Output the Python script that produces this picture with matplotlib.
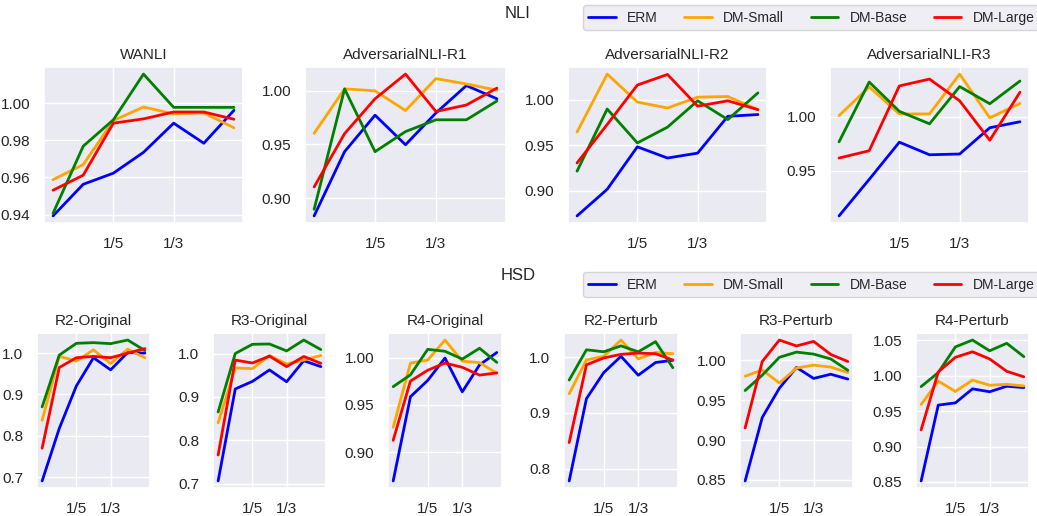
import matplotlib
matplotlib.use("Agg")
import matplotlib.pyplot as plt
import seaborn as sns
from matplotlib.ticker import MultipleLocator

sns.set_theme(style="darkgrid")
plt.rcParams['font.family'] = ['Liberation Sans', 'DejaVu Sans']

# x positions of the 7 runs, only two of them are labelled
steps = [0, 1, 2, 3, 4, 5, 6]
tick_pos = [2, 4]
tick_labels = ['1/5', '1/3']

models = ['ERM', 'DM-Small', 'DM-Base', 'DM-Large']
colors = ['blue', 'orange', 'green', 'red']

# ---- NLI ----
wanli_erm = [0.9393, 0.9563, 0.9623, 0.9735, 0.9892, 0.9784, 0.9961]
wanli_small = [0.9588, 0.9669, 0.9906, 0.9979, 0.9942, 0.9947, 0.9867]
wanli_base = [0.9407, 0.9768, 0.9910, 1.0156, 0.9977, 0.9977, 0.9977]
wanli_large = [0.9531, 0.9612, 0.9892, 0.9915, 0.9952, 0.9952, 0.9913]

r1_erm = [0.8834, 0.9433, 0.9773, 0.9497, 0.9794, 1.0049, 0.9926]
r1_small = [0.9604, 1.0018, 1.0000, 0.9816, 1.0114, 1.0064, 1.0006]
r1_base = [0.8896, 1.0018, 0.9433, 0.9620, 0.9730, 0.9730, 0.9905]
r1_large = [0.9104, 0.9601, 0.9926, 1.0156, 0.9807, 0.9868, 1.0025]

r2_erm = [0.8726, 0.9018, 0.9484, 0.9361, 0.9415, 0.9819, 0.9838]
r2_small = [0.9646, 1.0282, 0.9975, 0.9910, 1.0029, 1.0036, 0.9892]
r2_base = [0.9217, 0.9899, 0.9527, 0.9700, 0.9989, 0.9783, 1.0076]
r2_large = [0.9307, 0.9729, 1.0162, 1.0278, 0.9930, 0.9989, 0.9892]

r3_erm = [0.9085, 0.9421, 0.9764, 0.9648, 0.9655, 0.9897, 0.9952]
r3_small = [1.0009, 1.0273, 1.0024, 1.0024, 1.0391, 0.9988, 1.0121]
r3_base = [0.9767, 1.0318, 1.0048, 0.9933, 1.0276, 1.0118, 1.0327]
r3_large = [0.9618, 0.9685, 1.0282, 1.0345, 1.0145, 0.9782, 1.0224]

# ---- HSD ----
r2o_erm = [0.6905, 0.8175, 0.9206, 0.9889, 0.9595, 1.0016, 1.0000]
r2o_small = [0.8373, 0.9921, 0.9810, 1.0079, 0.9746, 1.0095, 0.9889]
r2o_base = [0.8698, 0.9952, 1.0238, 1.0254, 1.0230, 1.0317, 1.0063]
r2o_large = [0.7698, 0.9651, 0.9889, 0.9921, 0.9889, 1.0000, 1.0111]

r3o_erm = [0.7067, 0.9184, 0.9358, 0.9622, 0.9350, 0.9834, 0.9698]
r3o_small = [0.8405, 0.9667, 0.9652, 0.9955, 0.9758, 0.9849, 0.9955]
r3o_base = [0.8655, 1.0000, 1.0212, 1.0219, 1.0060, 1.0310, 1.0091]
r3o_large = [0.7664, 0.9849, 0.9781, 0.9940, 0.9698, 0.9932, 0.9773]

r4o_erm = [0.8694, 0.9587, 0.9760, 0.9997, 0.9639, 0.9924, 1.0056]
r4o_small = [0.9264, 0.9944, 0.9976, 1.0188, 0.9965, 0.9948, 0.9837]
r4o_base = [0.9694, 0.9819, 1.0090, 1.0069, 0.9986, 1.0101, 0.9951]
r4o_large = [0.9125, 0.9753, 0.9868, 0.9944, 0.9899, 0.9816, 0.9840]

r2p_erm = [0.7778, 0.9257, 0.9725, 1.0018, 0.9678, 0.9906, 0.9947]
r2p_small = [0.9345, 0.9953, 1.0018, 1.0310, 0.9971, 1.0088, 1.0064]
r2p_base = [0.9591, 1.0135, 1.0099, 1.0205, 1.0099, 1.0281, 0.9813]
r2p_large = [0.8468, 0.9865, 0.9988, 1.0053, 1.0076, 1.0064, 0.9953]

r3p_erm = [0.8488, 0.9283, 0.9650, 0.9910, 0.9772, 0.9825, 0.9764]
r3p_small = [0.9800, 0.9878, 0.9715, 0.9902, 0.9939, 0.9914, 0.9845]
r3p_base = [0.9621, 0.9813, 1.0037, 1.0102, 1.0077, 1.0016, 0.9874]
r3p_large = [0.9152, 0.9984, 1.0253, 1.0179, 1.0236, 1.0073, 0.9984]

r4p_erm = [0.8514, 0.9586, 0.9618, 0.9816, 0.9775, 0.9853, 0.9834]
r4p_small = [0.9595, 0.9926, 0.9779, 0.9940, 0.9867, 0.9880, 0.9857]
r4p_base = [0.9848, 1.0046, 1.0409, 1.0506, 1.0354, 1.0460, 1.0271]
r4p_large = [0.9236, 1.0055, 1.0262, 1.0340, 1.0239, 1.0064, 0.9986]

nli_titles = ['WANLI', 'AdversarialNLI-R1', 'AdversarialNLI-R2', 'AdversarialNLI-R3']
nli_data = [
    [wanli_erm, wanli_small, wanli_base, wanli_large],
    [r1_erm, r1_small, r1_base, r1_large],
    [r2_erm, r2_small, r2_base, r2_large],
    [r3_erm, r3_small, r3_base, r3_large],
]
nli_steps = [0.02, 0.05, 0.05, 0.05]

hsd_titles = ['R2-Original', 'R3-Original', 'R4-Original',
              'R2-Perturb', 'R3-Perturb', 'R4-Perturb']
hsd_data = [
    [r2o_erm, r2o_small, r2o_base, r2o_large],
    [r3o_erm, r3o_small, r3o_base, r3o_large],
    [r4o_erm, r4o_small, r4o_base, r4o_large],
    [r2p_erm, r2p_small, r2p_base, r2p_large],
    [r3p_erm, r3p_small, r3p_base, r3p_large],
    [r4p_erm, r4p_small, r4p_base, r4p_large],
]
hsd_steps = [0.1, 0.1, 0.05, 0.1, 0.05, 0.05]

W, H = 1037, 516
fig = plt.figure(figsize=(W / 100, H / 100), dpi=100)

# axes boxes in pixels: (left, right), rows share top/bottom
nli_boxes = [(44, 243), (305, 506), (568, 767), (830, 1029)]
hsd_boxes = [(37, 150), (213, 326), (388, 502), (564, 678), (740, 853), (916, 1029)]


def make_axes(left, right, top, bottom):
    return fig.add_axes([left / W, 1 - bottom / H, (right - left) / W, (bottom - top) / H])


def draw_panel(ax, title, series, ystep):
    for vals, name, c in zip(series, models, colors):
        ax.plot(steps, vals, color=c, lw=2, label=name)
    ax.set_title(title, fontsize=11, pad=6)
    ax.set_xticks(tick_pos)
    ax.set_xticklabels(tick_labels)
    ax.yaxis.set_major_locator(MultipleLocator(ystep))
    ax.tick_params(axis='x', labelsize=11, pad=4)
    ax.tick_params(axis='y', labelsize=11, pad=4)


for (l, r), title, series, ys in zip(nli_boxes, nli_titles, nli_data, nli_steps):
    ax = make_axes(l, r, 67, 223)
    draw_panel(ax, title, series, ys)
handles, labels = ax.get_legend_handles_labels()

for (l, r), title, series, ys in zip(hsd_boxes, hsd_titles, hsd_data, hsd_steps):
    ax = make_axes(l, r, 333, 488)
    draw_panel(ax, title, series, ys)

fig.text(518 / W, 1 - 13 / H, 'NLI', ha='center', va='center', fontsize=12)
fig.text(518 / W, 1 - 276 / H, 'HSD', ha='center', va='center', fontsize=12)

for y in [5, 272]:
    fig.legend(handles, labels, ncol=4, loc='upper right', fontsize=10,
               bbox_to_anchor=(1040 / W, 1 - y / H), borderaxespad=0,
               columnspacing=1.9)

fig.savefig('out.png', dpi=100)
